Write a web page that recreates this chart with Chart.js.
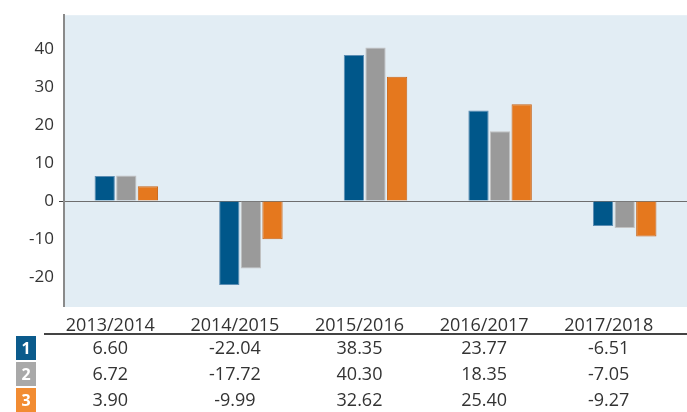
<!DOCTYPE html>
<html>
<head>
<meta charset="utf-8">
<script src="https://cdn.jsdelivr.net/npm/chart.js@4"></script>
<style>
  html, body { margin: 0; padding: 0; background: #fff; }
  #wrap { width: 687px; height: 412px; position: relative; }
</style>
</head>
<body>
<div id="wrap"><canvas id="returnsChart" width="687" height="412"></canvas></div>
<script>
var seasons = ['2013/2014', '2014/2015', '2015/2016', '2016/2017', '2017/2018'];
var series1 = [6.60, -22.04, 38.35, 23.77, -6.51];
var series2 = [6.72, -17.72, 40.30, 18.35, -7.05];
var series3 = [3.90, -9.99, 32.62, 25.40, -9.27];
var seriesNames = ['1', '2', '3'];
var yTicks = [-20, -10, 0, 10, 20, 30, 40];

var barColors = ['#00578a', '#9a9a9a', '#e5781e'];
var barEdges = ['#5b8db3', '#c2c2c2', '#c9661a'];
var badgeColors = ['#0b5b8c', '#a9a9a9', '#f28c32'];
var font = '"Open Sans", sans-serif';

// plot background + table under the axis
var tablePlugin = {
    id: 'tablePlugin',
    beforeDraw: function (chart) {
        var c = chart.ctx, a = chart.chartArea;
        c.save();
        c.fillStyle = '#e2edf4';
        c.fillRect(a.left, a.top, a.right - a.left, a.bottom - a.top);
        c.restore();
    },
    afterDraw: function (chart) {
        var c = chart.ctx, x = chart.scales.x;
        var rows = [series1, series2, series3];
        var rowY = [349, 375, 401];
        c.save();
        c.strokeStyle = '#444';
        c.lineWidth = 2;
        c.beginPath();
        c.moveTo(44, 334);
        c.lineTo(687, 334);
        c.stroke();
        rows.forEach(function (vals, r) {
            c.fillStyle = badgeColors[r];
            c.fillRect(16, rowY[r] - 13, 20, 24);
            c.fillStyle = '#fff';
            c.font = 'bold 16px ' + font;
            c.textAlign = 'center';
            c.textBaseline = 'middle';
            c.fillText(seriesNames[r], 26, rowY[r]);
            c.fillStyle = '#333';
            c.font = '18px ' + font;
            vals.forEach(function (v, i) {
                c.fillText(v.toFixed(2), x.getPixelForValue(i) - 16, rowY[r]);
            });
        });
        c.restore();
    }
};

var ctx = document.getElementById('returnsChart').getContext('2d');
var returnsChart = new Chart(ctx, {
    type: 'bar',
    data: {
        labels: seasons,
        datasets: [series1, series2, series3].map(function (d, i) {
            return {
                label: seriesNames[i],
                data: d,
                backgroundColor: barColors[i],
                borderColor: barEdges[i],
                borderWidth: 1,
                borderSkipped: 'start',
                categoryPercentage: 0.52,
                barPercentage: 0.94
            };
        })
    },
    options: {
        responsive: false,
        animation: false,
        layout: { padding: { top: 12, right: 0, left: 0, bottom: 0 } },
        plugins: {
            legend: { display: false },
            tooltip: { enabled: false }
        },
        scales: {
            x: {
                grid: { display: false },
                border: { display: false },
                ticks: {
                    color: '#333',
                    font: { family: font, size: 18 },
                    labelOffset: -16,
                    padding: 0,
                    maxRotation: 0
                },
                afterFit: function (s) { s.height = 105; }
            },
            y: {
                min: -27.8,
                max: 48.8,
                afterBuildTicks: function (s) {
                    s.ticks = yTicks.map(function (v) { return { value: v }; });
                },
                afterFit: function (s) { s.width = 64; },
                border: { color: '#8a8a8a', width: 2 },
                grid: {
                    drawOnChartArea: true,
                    tickLength: 5,
                    tickColor: '#444',
                    color: function (c) { return c.tick && c.tick.value === 0 ? '#6e6e6e' : 'rgba(0,0,0,0)'; },
                    lineWidth: function (c) { return c.tick && c.tick.value === 0 ? 1 : 0; }
                },
                ticks: {
                    color: '#333',
                    font: { family: font, size: 17 },
                    padding: 5
                }
            }
        }
    },
    plugins: [tablePlugin]
});
</script>
</body>
</html>
